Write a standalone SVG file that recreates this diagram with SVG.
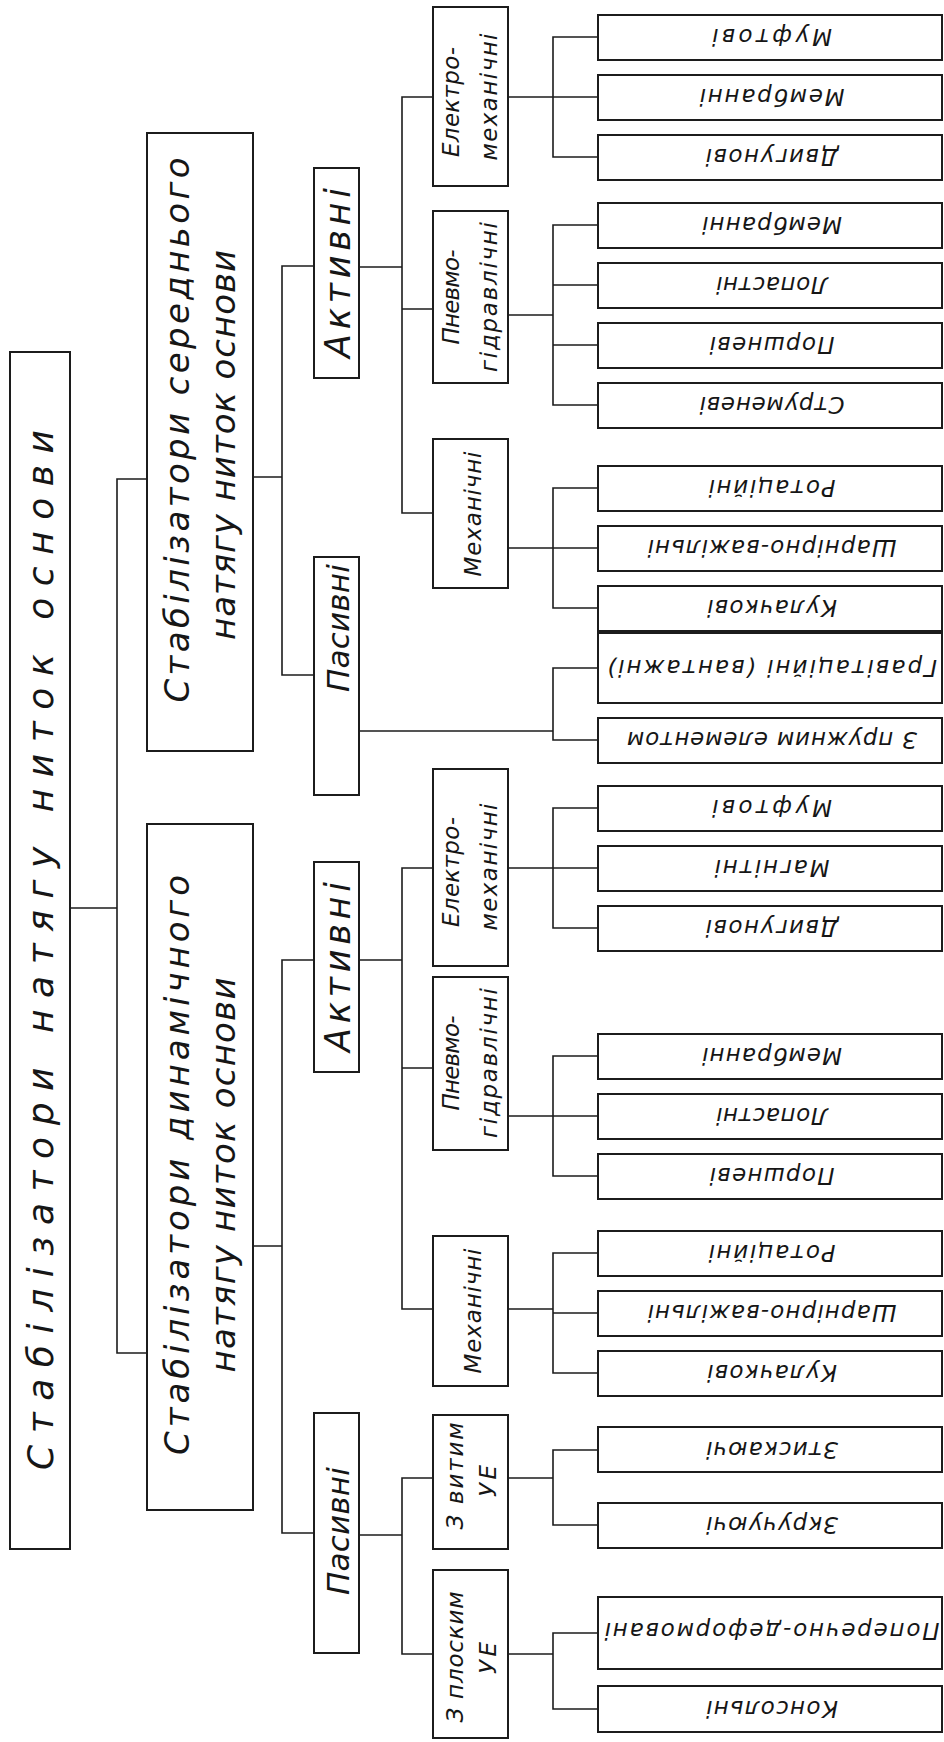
<svg xmlns="http://www.w3.org/2000/svg" width="944" height="1742" viewBox="0 0 944 1742">
<style>
  .box { fill: #ffffff; stroke: #1c1c1c; stroke-width: 2; }
  .ln { fill: none; stroke: #1c1c1c; stroke-width: 1.6; }
  text { font-family: "DejaVu Sans", "Liberation Sans", sans-serif; font-style: italic; fill: #161616; text-anchor: middle; }
  .t0 { font-size: 36px; }
  .t1 { font-size: 34px; }
  .t2 { font-size: 35px; }
  .tp { font-size: 31px; }
  .t3 { font-size: 23px; }
  .lf { font-size: 23px; dominant-baseline: central; }
</style>
<rect width="944" height="1742" fill="#ffffff"/>

<!-- connectors -->
<g id="connectors" class="ln">
  <path d="M70 908H117M147 479H117V1353H147"/>
  <!-- upper branch -->
  <path d="M253 477H282M314 266H282V675H314"/>
  <path d="M359 267H402M433 97H402V513H433M402 309H433"/>
  <path d="M508 97H553M598 37H553V157H598M553 97H598"/>
  <path d="M508 315H553M598 225H553V405H598M553 285H598M553 345H598"/>
  <path d="M508 548H553M598 488H553V608H598M553 548H598"/>
  <path d="M359 731H553M598 668H553V740H598"/>
  <!-- lower branch -->
  <path d="M253 1246H282M314 960H282V1533H314"/>
  <path d="M359 960H402M433 868H402V1309H433M402 1068H433"/>
  <path d="M508 868H553M598 808H553V928H598M553 868H598"/>
  <path d="M508 1116H553M598 1056H553V1176H598M553 1116H598"/>
  <path d="M508 1309H553M598 1253H553V1373H598M553 1313H598"/>
  <path d="M359 1535H402M433 1478H402V1654H433"/>
  <path d="M508 1478H553M598 1450H553V1525H598"/>
  <path d="M508 1654H553M598 1633H553V1709H598"/>
</g>

<!-- root -->
<g id="root">
  <rect class="box" x="10" y="352" width="60" height="1197"/>
  <text class="t0" x="53" y="950" transform="rotate(-90 53 950)" textLength="1040" lengthAdjust="spacing">Стабілізатори натягу ниток основи</text>
</g>

<!-- level 1 -->
<g id="mid-tension">
  <rect class="box" x="147" y="133" width="106" height="618"/>
  <text class="t1" x="189" y="430" transform="rotate(-90 189 430)" textLength="545" lengthAdjust="spacing">Стабілізатори середнього</text>
  <text class="t1" x="235" y="445" transform="rotate(-90 235 445)" textLength="390" lengthAdjust="spacing">натягу ниток основи</text>
</g>
<g id="dyn-tension">
  <rect class="box" x="147" y="824" width="106" height="686"/>
  <text class="t1" x="189" y="1165" transform="rotate(-90 189 1165)" textLength="580" lengthAdjust="spacing">Стабілізатори динамічного</text>
  <text class="t1" x="235" y="1175" transform="rotate(-90 235 1175)" textLength="395" lengthAdjust="spacing">натягу ниток основи</text>
</g>

<!-- level 2 -->
<g id="mid-active">
  <rect class="box" x="314" y="168" width="45" height="210"/>
  <text class="t2" x="350" y="273" transform="rotate(-90 350 273)" textLength="170" lengthAdjust="spacing">Активні</text>
</g>
<g id="mid-passive">
  <rect class="box" x="314" y="557" width="45" height="238"/>
  <text class="tp" x="349" y="628" transform="rotate(-90 349 628)" textLength="128" lengthAdjust="spacing">Пасивні</text>
</g>
<g id="dyn-active">
  <rect class="box" x="314" y="862" width="45" height="210"/>
  <text class="t2" x="350" y="967" transform="rotate(-90 350 967)" textLength="170" lengthAdjust="spacing">Активні</text>
</g>
<g id="dyn-passive">
  <rect class="box" x="314" y="1413" width="45" height="240"/>
  <text class="tp" x="349" y="1531" transform="rotate(-90 349 1531)" textLength="128" lengthAdjust="spacing">Пасивні</text>
</g>

<!-- level 3 -->
<g id="mid-electro">
  <rect class="box" x="433" y="7" width="75" height="179"/>
  <text class="t3" x="459" y="102" transform="rotate(-90 459 102)" textLength="110" lengthAdjust="spacing">Електро-</text>
  <text class="t3" x="497" y="97" transform="rotate(-90 497 97)" textLength="127" lengthAdjust="spacing">механічні</text>
</g>
<g id="mid-pneumo">
  <rect class="box" x="433" y="211" width="75" height="172"/>
  <text class="t3" x="459" y="297" transform="rotate(-90 459 297)" textLength="95" lengthAdjust="spacing">Пневмо-</text>
  <text class="t3" x="497" y="297" transform="rotate(-90 497 297)" textLength="150" lengthAdjust="spacing">гідравлічні</text>
</g>
<g id="mid-mech">
  <rect class="box" x="433" y="439" width="75" height="149"/>
  <text class="t3" x="481" y="514" transform="rotate(-90 481 514)" textLength="125" lengthAdjust="spacing">Механічні</text>
</g>
<g id="dyn-electro">
  <rect class="box" x="433" y="769" width="75" height="197"/>
  <text class="t3" x="459" y="872" transform="rotate(-90 459 872)" textLength="110" lengthAdjust="spacing">Електро-</text>
  <text class="t3" x="497" y="867" transform="rotate(-90 497 867)" textLength="127" lengthAdjust="spacing">механічні</text>
</g>
<g id="dyn-pneumo">
  <rect class="box" x="433" y="977" width="75" height="173"/>
  <text class="t3" x="459" y="1063" transform="rotate(-90 459 1063)" textLength="95" lengthAdjust="spacing">Пневмо-</text>
  <text class="t3" x="497" y="1063" transform="rotate(-90 497 1063)" textLength="150" lengthAdjust="spacing">гідравлічні</text>
</g>
<g id="dyn-mech">
  <rect class="box" x="433" y="1236" width="75" height="150"/>
  <text class="t3" x="481" y="1311" transform="rotate(-90 481 1311)" textLength="125" lengthAdjust="spacing">Механічні</text>
</g>
<g id="dyn-coil">
  <rect class="box" x="433" y="1415" width="75" height="134"/>
  <text class="t3" x="463" y="1476" transform="rotate(-90 463 1476)" textLength="107" lengthAdjust="spacing">З витим</text>
  <text class="t3" x="496" y="1481" transform="rotate(-90 496 1481)" textLength="32" lengthAdjust="spacing">УЕ</text>
</g>
<g id="dyn-flat">
  <rect class="box" x="433" y="1570" width="75" height="168"/>
  <text class="t3" x="463" y="1657" transform="rotate(-90 463 1657)" textLength="131" lengthAdjust="spacing">З плоским</text>
  <text class="t3" x="496" y="1658" transform="rotate(-90 496 1658)" textLength="32" lengthAdjust="spacing">УЕ</text>
</g>

<!-- leaves -->
<g id="leaf-01"><rect class="box" x="598" y="15" width="344" height="45"/><text class="lf" x="772" y="37" transform="rotate(180 772 37)" textLength="120" lengthAdjust="spacing">Муфтові</text></g>
<g id="leaf-02"><rect class="box" x="598" y="75" width="344" height="45"/><text class="lf" x="772" y="97" transform="rotate(180 772 97)" textLength="145" lengthAdjust="spacing">Мембранні</text></g>
<g id="leaf-03"><rect class="box" x="598" y="135" width="344" height="45"/><text class="lf" x="772" y="157" transform="rotate(180 772 157)" textLength="133" lengthAdjust="spacing">Двигунові</text></g>
<g id="leaf-04"><rect class="box" x="598" y="203" width="344" height="45"/><text class="lf" x="772" y="225" transform="rotate(180 772 225)" textLength="140" lengthAdjust="spacing">Мембранні</text></g>
<g id="leaf-05"><rect class="box" x="598" y="263" width="344" height="45"/><text class="lf" x="772" y="285" transform="rotate(180 772 285)" textLength="112" lengthAdjust="spacing">Лопастні</text></g>
<g id="leaf-06"><rect class="box" x="598" y="323" width="344" height="45"/><text class="lf" x="772" y="345" transform="rotate(180 772 345)" textLength="125" lengthAdjust="spacing">Поршневі</text></g>
<g id="leaf-07"><rect class="box" x="598" y="383" width="344" height="45"/><text class="lf" x="772" y="405" transform="rotate(180 772 405)" textLength="145" lengthAdjust="spacing">Струменеві</text></g>
<g id="leaf-08"><rect class="box" x="598" y="466" width="344" height="45"/><text class="lf" x="772" y="488" transform="rotate(180 772 488)" textLength="127" lengthAdjust="spacing">Ротаційні</text></g>
<g id="leaf-09"><rect class="box" x="598" y="526" width="344" height="45"/><text class="lf" x="772" y="548" transform="rotate(180 772 548)" textLength="249" lengthAdjust="spacing">Шарнірно-важільні</text></g>
<g id="leaf-10"><rect class="box" x="598" y="586" width="344" height="45"/><text class="lf" x="772" y="608" transform="rotate(180 772 608)" textLength="130" lengthAdjust="spacing">Кулачкові</text></g>
<g id="leaf-11"><rect class="box" x="598" y="633" width="344" height="70"/><text class="lf" x="772" y="668" transform="rotate(180 772 668)" textLength="330" lengthAdjust="spacing">Гравітаційні (вантажні)</text></g>
<g id="leaf-12"><rect class="box" x="598" y="718" width="344" height="45"/><text class="lf" x="772" y="740" transform="rotate(180 772 740)" textLength="290" lengthAdjust="spacing">З пружним елементом</text></g>
<g id="leaf-13"><rect class="box" x="598" y="786" width="344" height="45"/><text class="lf" x="772" y="808" transform="rotate(180 772 808)" textLength="120" lengthAdjust="spacing">Муфтові</text></g>
<g id="leaf-14"><rect class="box" x="598" y="846" width="344" height="45"/><text class="lf" x="772" y="868" transform="rotate(180 772 868)" textLength="115" lengthAdjust="spacing">Магнітні</text></g>
<g id="leaf-15"><rect class="box" x="598" y="906" width="344" height="45"/><text class="lf" x="772" y="928" transform="rotate(180 772 928)" textLength="133" lengthAdjust="spacing">Двигунові</text></g>
<g id="leaf-16"><rect class="box" x="598" y="1034" width="344" height="45"/><text class="lf" x="772" y="1056" transform="rotate(180 772 1056)" textLength="140" lengthAdjust="spacing">Мембранні</text></g>
<g id="leaf-17"><rect class="box" x="598" y="1094" width="344" height="45"/><text class="lf" x="772" y="1116" transform="rotate(180 772 1116)" textLength="112" lengthAdjust="spacing">Лопастні</text></g>
<g id="leaf-18"><rect class="box" x="598" y="1154" width="344" height="45"/><text class="lf" x="772" y="1176" transform="rotate(180 772 1176)" textLength="125" lengthAdjust="spacing">Поршневі</text></g>
<g id="leaf-19"><rect class="box" x="598" y="1231" width="344" height="45"/><text class="lf" x="772" y="1253" transform="rotate(180 772 1253)" textLength="127" lengthAdjust="spacing">Ротаційні</text></g>
<g id="leaf-20"><rect class="box" x="598" y="1291" width="344" height="45"/><text class="lf" x="772" y="1313" transform="rotate(180 772 1313)" textLength="249" lengthAdjust="spacing">Шарнірно-важільні</text></g>
<g id="leaf-21"><rect class="box" x="598" y="1351" width="344" height="45"/><text class="lf" x="772" y="1373" transform="rotate(180 772 1373)" textLength="130" lengthAdjust="spacing">Кулачкові</text></g>
<g id="leaf-22"><rect class="box" x="598" y="1427" width="344" height="45"/><text class="lf" x="772" y="1450" transform="rotate(180 772 1450)" textLength="132" lengthAdjust="spacing">Зтискаючі</text></g>
<g id="leaf-23"><rect class="box" x="598" y="1503" width="344" height="45"/><text class="lf" x="772" y="1525" transform="rotate(180 772 1525)" textLength="132" lengthAdjust="spacing">Зкручуючі</text></g>
<g id="leaf-24"><rect class="box" x="598" y="1597" width="344" height="72"/><text class="lf" x="772" y="1631" transform="rotate(180 772 1631)" textLength="335" lengthAdjust="spacing">Поперечно-деформовані</text></g>
<g id="leaf-25"><rect class="box" x="598" y="1686" width="344" height="46"/><text class="lf" x="772" y="1709" transform="rotate(180 772 1709)" textLength="132" lengthAdjust="spacing">Консольні</text></g>
</svg>
